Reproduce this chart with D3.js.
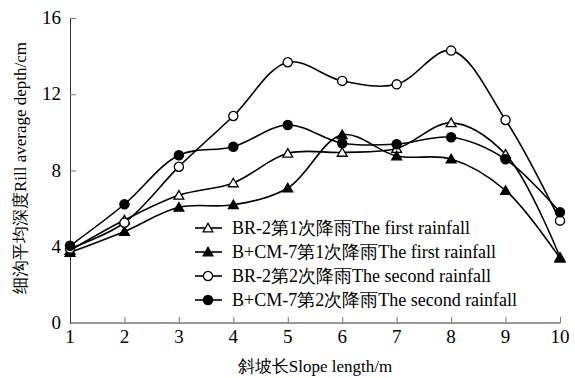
<!DOCTYPE html>
<html>
<head>
<meta charset="UTF-8">
</head>
<body style="margin:0;background:#fff">
<svg id="chart" width="575" height="378"></svg>
<script src="https://cdnjs.cloudflare.com/ajax/libs/d3/7.8.5/d3.min.js"></script>
<script>
// data
var slopeLength = [1, 2, 3, 4, 5, 6, 7, 8, 9, 10];
var br2First  = [3.8, 5.4, 6.7, 7.35, 8.9, 8.95, 9.15, 10.5, 8.85, 3.45];
var bcmFirst  = [3.7, 4.8, 6.07, 6.2, 7.08, 9.87, 8.76, 8.6, 6.95, 3.4];
var br2Second = [3.9, 5.26, 8.2, 10.86, 13.68, 12.7, 12.52, 14.29, 10.65, 5.37];
var bcmSecond = [4.05, 6.23, 8.8, 9.25, 10.39, 9.43, 9.38, 9.74, 8.59, 5.81];
var yTicks = [0, 4, 8, 12, 16];
var seriesNames = [
  "BR-2第1次降雨The first rainfall",
  "B+CM-7第1次降雨The first rainfall",
  "BR-2第2次降雨The second rainfall",
  "B+CM-7第2次降雨The second rainfall"
];

var series = [
  { name: seriesNames[0], values: br2First,  shape: "triangle", filled: false },
  { name: seriesNames[1], values: bcmFirst,  shape: "triangle", filled: true },
  { name: seriesNames[2], values: br2Second, shape: "circle",   filled: false },
  { name: seriesNames[3], values: bcmSecond, shape: "circle",   filled: true }
];

var svg = d3.select("#chart");
var margin = { top: 18, right: 10, bottom: 55, left: 70 };
var width = 575 - margin.left - margin.right,
    height = 378 - margin.top - margin.bottom;

var g = svg.append("g")
    .attr("transform", "translate(" + margin.left + "," + margin.top + ")");

var x = d3.scaleLinear().domain([1, 10]).range([0, width - 5]);
var y = d3.scaleLinear().domain([0, 16]).range([height, 0]);

// plain text helper, font set the same way as on a bare svg
function label(parent, str, size) {
  return parent.append("text")
      .attr("font-family", "Liberation Serif")
      .attr("font-size", size)
      .text(str);
}

// axes drawn with d3 but labels written by hand so the font sticks
var xAxis = g.append("g")
    .attr("transform", "translate(0," + height + ")")
    .call(d3.axisBottom(x).tickValues(slopeLength).tickSize(-6).tickSizeOuter(0).tickFormat(""));
xAxis.select(".domain").attr("d", "M0,0H" + (width - 5)).attr("stroke", "#333");
xAxis.selectAll(".tick line").attr("stroke", "#777");
slopeLength.forEach(function(v) {
  label(g, String(v), 19)
      .attr("x", x(v))
      .attr("y", height + 20)
      .attr("text-anchor", "middle");
});

var yAxis = g.append("g")
    .call(d3.axisLeft(y).tickValues(yTicks).tickSize(-6).tickSizeOuter(0).tickFormat(""));
yAxis.select(".domain").attr("stroke", "#333");
yAxis.selectAll(".tick line").attr("stroke", "#777");
yAxis.selectAll(".tick").filter(function(d) { return d === 0; }).select("line").remove();
yTicks.forEach(function(v) {
  label(g, String(v), 19)
      .attr("x", -9)
      .attr("y", y(v) + 6)
      .attr("text-anchor", "end");
});

// axis titles
label(svg, "斜坡长Slope length/m", 17)
    .attr("x", 315)
    .attr("y", 372)
    .attr("text-anchor", "middle");

label(svg, "细沟平均深度Rill average depth/cm", 17)
    .attr("transform", "translate(26,168) rotate(-90)")
    .attr("text-anchor", "middle");

// lines
var line = d3.line()
    .x(function(d, i) { return x(slopeLength[i]); })
    .y(function(d) { return y(d); })
    .curve(d3.curveCatmullRom.alpha(0.5));

var tri = d3.symbol().type(d3.symbolTriangle).size(42);

function drawMarker(sel, s) {
  if (s.shape === "triangle") {
    sel.append("path")
        .attr("d", tri)
        .attr("transform", "translate(0,1)")
        .attr("fill", s.filled ? "#000" : "#fff")
        .attr("stroke", "#000")
        .attr("stroke-width", 1.3);
  } else {
    sel.append("circle")
        .attr("r", 4.6)
        .attr("fill", s.filled ? "#000" : "#fff")
        .attr("stroke", "#000")
        .attr("stroke-width", 1.3);
  }
}

series.forEach(function(s) {
  g.append("path")
      .datum(s.values)
      .attr("fill", "none")
      .attr("stroke", "#000")
      .attr("stroke-width", 1.6)
      .attr("d", line);
});

series.forEach(function(s) {
  g.append("g").selectAll("g")
      .data(s.values)
      .enter().append("g")
      .attr("transform", function(d, i) { return "translate(" + x(slopeLength[i]) + "," + y(d) + ")"; })
      .each(function() { drawMarker(d3.select(this), s); });
});

// legend
var legend = svg.append("g").attr("transform", "translate(195,228)");
series.forEach(function(s, i) {
  var row = legend.append("g").attr("transform", "translate(0," + (i * 24) + ")");
  row.append("line")
      .attr("x1", 0).attr("x2", 27)
      .attr("stroke", "#000").attr("stroke-width", 1.6);
  drawMarker(row.append("g").attr("transform", "translate(13,0)"), s);
  label(row, s.name, 18)
      .attr("x", 37)
      .attr("y", 6);
});
</script>
</body>
</html>
